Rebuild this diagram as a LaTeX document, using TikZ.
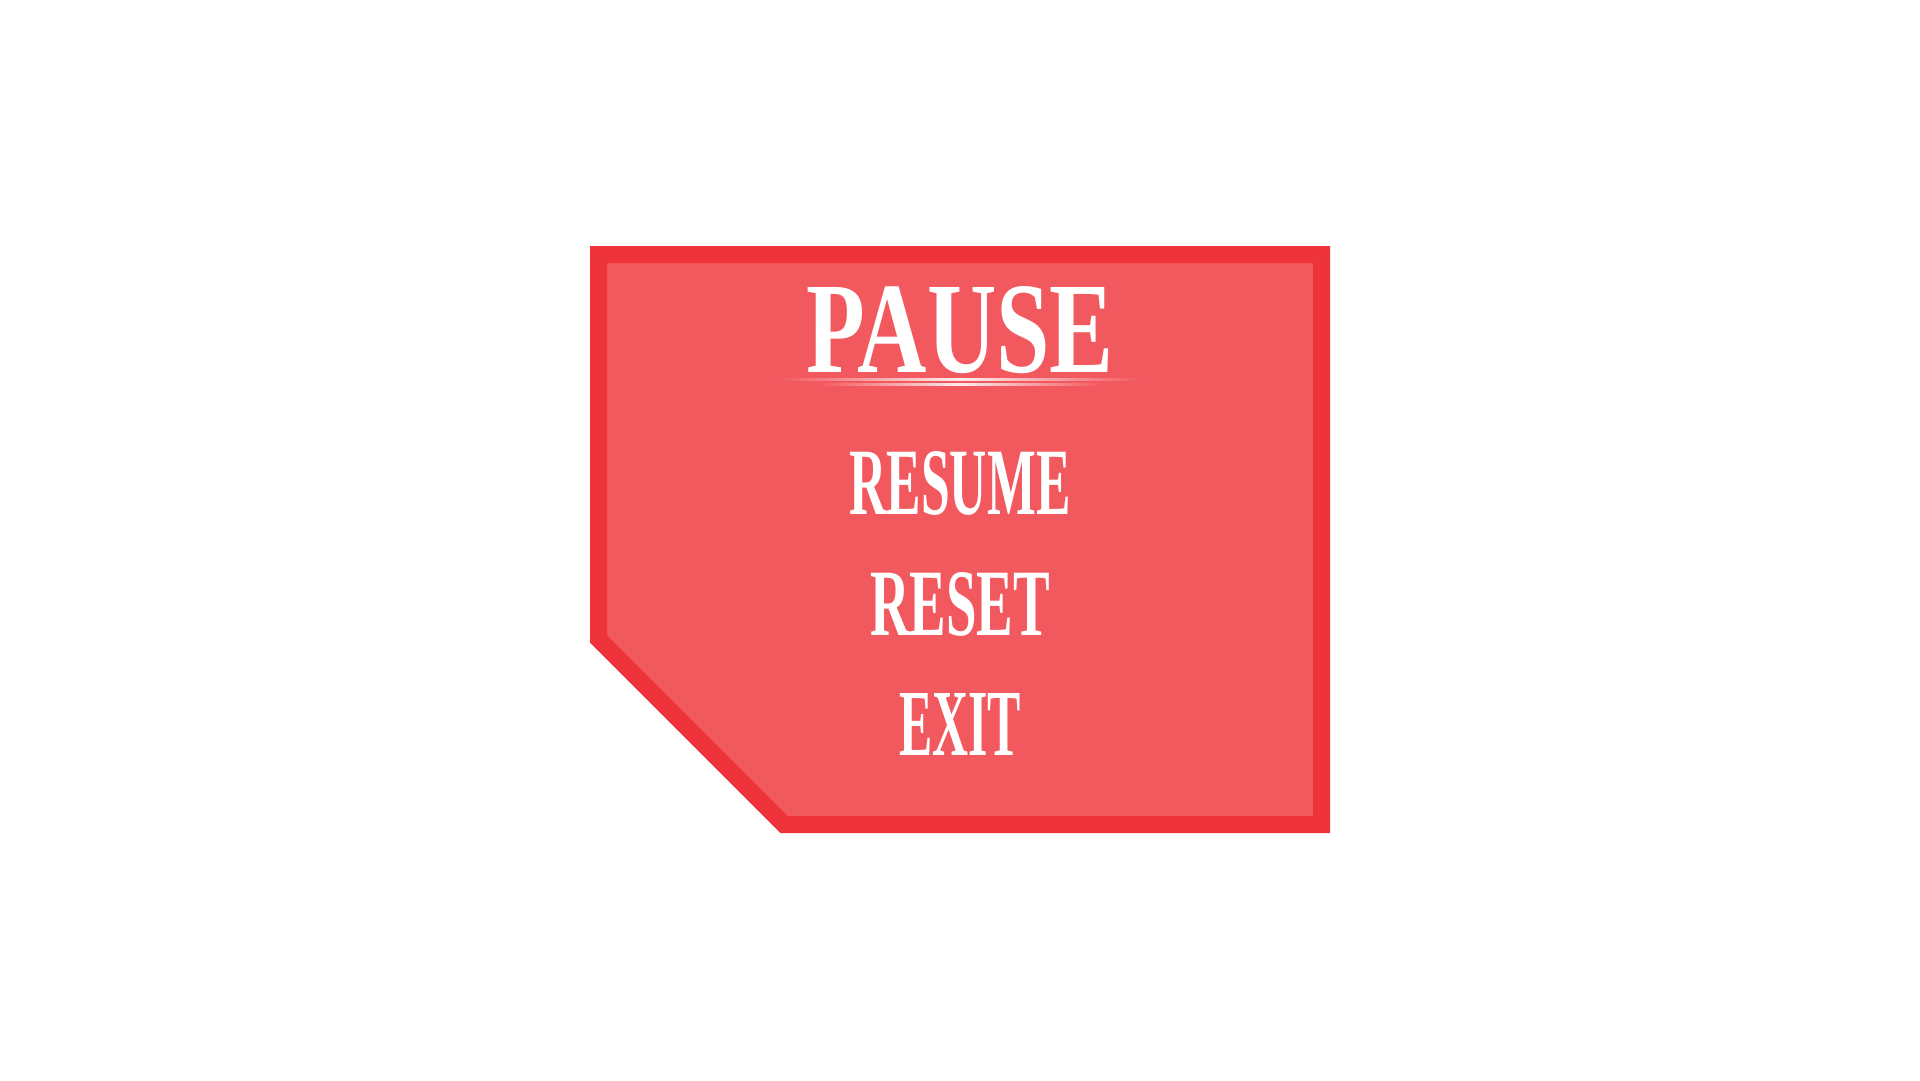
\documentclass[tikz,border=0pt]{standalone}
\usepackage{graphicx}
\usepackage{fontspec}
\setmainfont{Liberation Serif}
\definecolor{frameRed}{RGB}{238,51,59}
\definecolor{panelRed}{RGB}{242,89,95}
\tikzset{
  menutext/.style={anchor=base, inner sep=0pt, text=white, font=\bfseries},
  glowline/.style={left color=panelRed, right color=panelRed, middle color=white!90!panelRed, draw=none}
}
\begin{document}
\begin{tikzpicture}[x=1pt,y=-1pt]
\useasboundingbox (0,0) rectangle (1920,1080);
\fill[white] (0,0) rectangle (1920,1080);
% panel
\draw[fill=panelRed, draw=frameRed, line width=17pt, line join=miter]
  (598.5,254.5) -- (1321.5,254.5) -- (1321.5,824.5) -- (784,824.5) -- (598.5,639) -- cycle;
% title
\node[menutext] (title) at (960,372) {\resizebox{308pt}{86pt}{\fontsize{100}{100}\selectfont\bfseries PAUSE}};
% underline decoration
\shade[glowline] (780,378) rectangle (1140,380.4);
\shade[glowline] (819,383.4) rectangle (1101,385.2);
% menu entries
\node[menutext] (resume) at (960,514) {\resizebox{221pt}{63pt}{\fontsize{100}{100}\selectfont\bfseries RESUME}};
\node[menutext] (reset) at (960,635) {\resizebox{180pt}{63pt}{\fontsize{100}{100}\selectfont\bfseries RESET}};
\node[menutext] (exit) at (960,755.5) {\resizebox{122pt}{62pt}{\fontsize{100}{100}\selectfont\bfseries EXIT}};
\end{tikzpicture}
\end{document}
